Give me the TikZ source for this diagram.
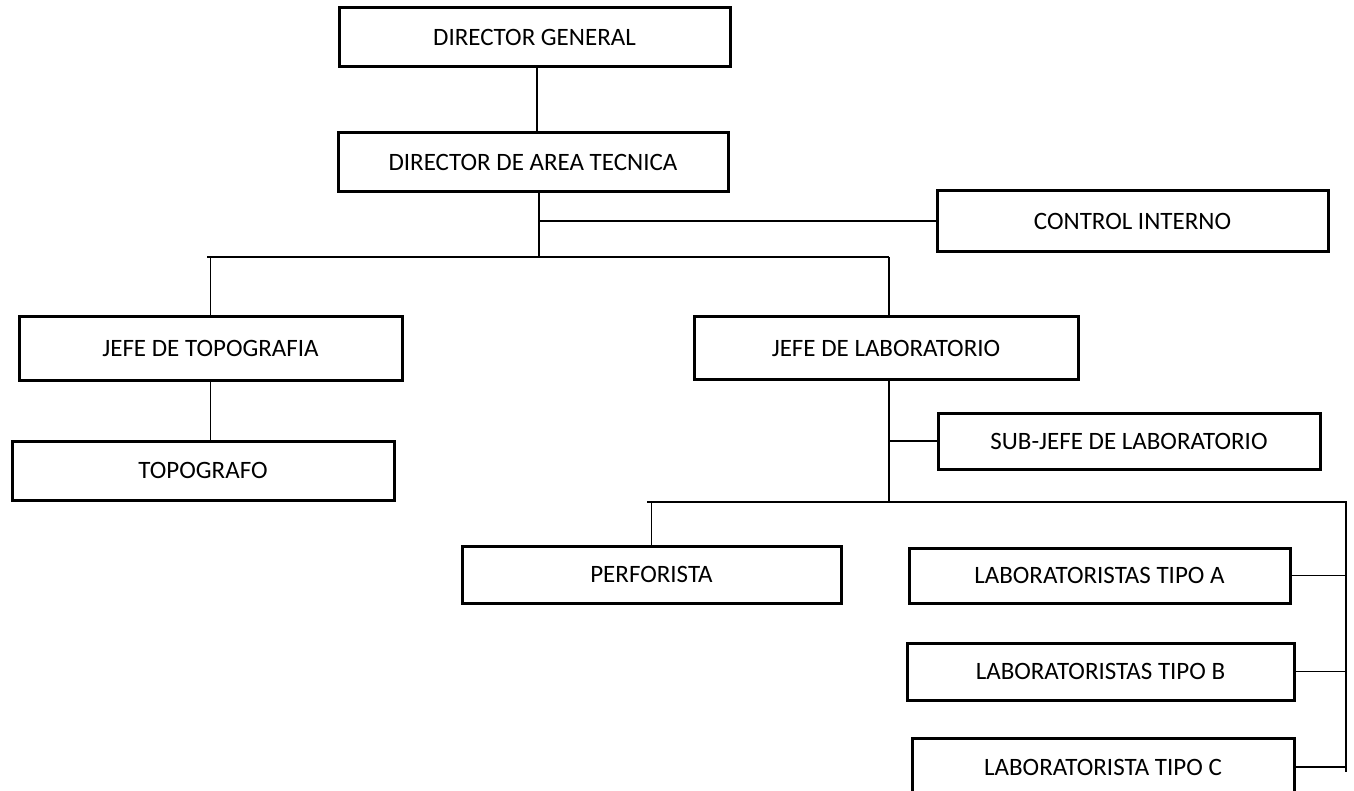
\documentclass[tikz,border=0pt]{standalone}
\usepackage{fontspec}
\setmainfont{Carlito}
\begin{document}
\begin{tikzpicture}[x=1pt,y=-1pt,
  box/.style={draw=black,line width=3pt,fill=white,inner sep=0pt,align=center,font=\fontsize{25}{30}\selectfont},
  conn/.style={draw=black,line width=1.6pt}]
\useasboundingbox[fill=white] (0,0) rectangle (1354,791);
% boxes
\node[box,minimum width=391pt,minimum height=59pt] (dg) at (534.5,37.5) {DIRECTOR GENERAL};
\node[box,minimum width=390pt,minimum height=59pt] (dat) at (533,162.5) {DIRECTOR DE AREA TECNICA};
\node[box,minimum width=391pt,minimum height=61pt] (ci) at (1132.5,221) {CONTROL INTERNO};
\node[box,minimum width=383pt,minimum height=63pt] (jt) at (210.5,348.5) {JEFE DE TOPOGRAFIA};
\node[box,minimum width=382pt,minimum height=59pt] (topo) at (203,470.5) {TOPOGRAFO};
\node[box,minimum width=384pt,minimum height=62pt] (jl) at (886,348) {JEFE DE LABORATORIO};
\node[box,minimum width=382pt,minimum height=56pt] (sj) at (1129,441) {SUB-JEFE DE LABORATORIO};
\node[box,minimum width=379pt,minimum height=57pt] (perf) at (651.5,574.5) {PERFORISTA};
\node[box,minimum width=381pt,minimum height=55pt] (la) at (1099.5,575.5) {LABORATORISTAS TIPO A};
\node[box,minimum width=387pt,minimum height=57pt] (lb) at (1100.5,671.5) {LABORATORISTAS TIPO B};
\node[box,minimum width=382pt,minimum height=58pt] (lc) at (1103,767) {LABORATORISTA TIPO C};
% junction coordinates
\coordinate (d1) at (537,0);
\coordinate (j1) at (539,257);
\coordinate (hl) at (207,257);
\coordinate (hr) at (889,257);
\coordinate (j2) at (889,502);
\coordinate (pl) at (647,502);
\coordinate (pr) at (1346,502);
\coordinate (pb) at (1346,772);
% connectors
\draw[conn] (dg.south -| d1) -- (dat.north -| d1);
\draw[conn] (dat.south -| j1) -- (j1);
\draw[conn] (ci.west -| j1) -- (ci.west);
\draw[conn] (hl) -- (hr);
\draw[conn] (jt.north |- hl) -- (jt.north);
\draw[conn] (hr) -- (jl.north -| hr);
\draw[conn] (jt.south) -- (jt.south |- topo.north);
\draw[conn] (jl.south -| j2) -- (j2);
\draw[conn] (sj.west -| j2) -- (sj.west);
\draw[conn] (pl) -- (pr) -- (pb);
\draw[conn] (perf.north |- pl) -- (perf.north);
\draw[conn] (la.east) -- (la.east -| pr);
\draw[conn] (lb.east) -- (lb.east -| pr);
\draw[conn] (lc.east) -- (lc.east -| pr);
\end{tikzpicture}
\end{document}
